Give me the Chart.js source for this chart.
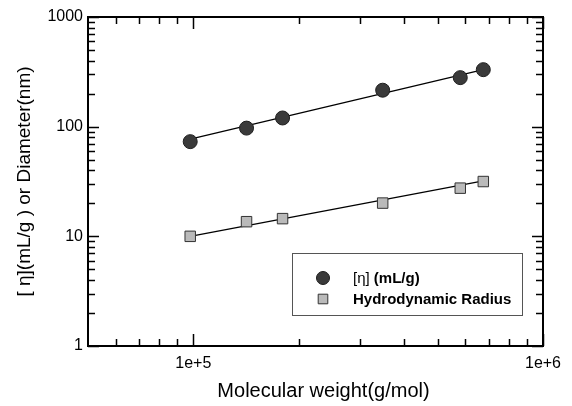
<!DOCTYPE html>
<html>
<head>
<meta charset="utf-8">
<script src="https://cdn.jsdelivr.net/npm/chart.js@4.4.1/dist/chart.umd.min.js"></script>
<style>
    html, body { margin: 0; padding: 0; background: #ffffff; }
    #wrap { width: 572px; height: 406px; }
</style>
</head>
<body>
<div id="wrap"><canvas id="chart" width="572" height="406"></canvas></div>
<script>
"use strict";

// data
const molWeight = [98000, 142000, 180000, 348000, 580000, 675000];
const intrinsicVisc = [73, 97, 120, 215, 280, 331];
const hydroRadius = [10.0, 13.6, 14.5, 20.1, 27.5, 31.6];

// end points of the drawn fit lines
const fitX = [98000, 675000];
const viscFit = [77, 331];
const radiusFit = [10.0, 32.0];

// axis ticks
const xMajorTicks = [1e5, 1e6];
const xTickLabels = ["1e+5", "1e+6"];
const xMinorTicks = [6e4, 7e4, 8e4, 9e4, 2e5, 3e5, 4e5, 5e5, 6e5, 7e5, 8e5, 9e5];
const yMajorTicks = [1, 10, 100, 1000];
const yTickLabels = ["1", "10", "100", "1000"];
const yMinorTicks = [2, 3, 4, 5, 6, 7, 8, 9, 20, 30, 40, 50, 60, 70, 80, 90, 200, 300, 400, 500, 600, 700, 800, 900];

const xTitle = "Molecular weight(g/mol)";
const yTitle = "[ \u03B7](mL/g ) or Diameter(nm)";

const FONT = "'Liberation Sans', Arial, sans-serif";

function toPoints(xs, ys) {
    return xs.map(function(x, i) {
        return { x: x, y: ys[i] };
    });
}

// frame + inward tick marks on all four sides
const framePlugin = {
    id: "frame",
    beforeDatasetsDraw: function(chart) {
        const ctx = chart.ctx;
        const area = chart.chartArea;
        const xScale = chart.scales.x;
        const yScale = chart.scales.y;

        ctx.save();
        ctx.strokeStyle = "#000000";
        ctx.lineWidth = 1.5;

        function xTick(v, len) {
            const px = Math.round(xScale.getPixelForValue(v)) + 0.5;
            ctx.beginPath();
            ctx.moveTo(px, area.bottom);
            ctx.lineTo(px, area.bottom - len);
            ctx.moveTo(px, area.top);
            ctx.lineTo(px, area.top + len);
            ctx.stroke();
        }
        function yTick(v, len) {
            const py = Math.round(yScale.getPixelForValue(v)) + 0.5;
            ctx.beginPath();
            ctx.moveTo(area.left, py);
            ctx.lineTo(area.left + len, py);
            ctx.moveTo(area.right, py);
            ctx.lineTo(area.right - len, py);
            ctx.stroke();
        }

        xMinorTicks.forEach(function(v) { xTick(v, 7); });
        xMajorTicks.forEach(function(v) { xTick(v, 12); });
        yMinorTicks.forEach(function(v) { yTick(v, 7); });
        yMajorTicks.forEach(function(v) { yTick(v, 11); });

        ctx.lineWidth = 2;
        ctx.strokeRect(area.left, area.top, area.right - area.left, area.bottom - area.top);

        // x axis title sits a bit right of the plot centre in the original
        ctx.fillStyle = "#000000";
        ctx.font = "20px " + FONT;
        ctx.textAlign = "center";
        ctx.textBaseline = "middle";
        ctx.fillText(xTitle, (area.left + area.right) / 2 + 8, 391);
        ctx.restore();
    }
};

// boxed legend inside the plot, lower right
const legendItems = [
    [{ text: "[\u03B7] ", bold: false }, { text: "(mL/g)", bold: true }],
    [{ text: "Hydrodynamic Radius", bold: true }]
];

const boxLegendPlugin = {
    id: "boxLegend",
    afterDraw: function(chart) {
        const ctx = chart.ctx;
        const area = chart.chartArea;
        const boxRight = area.right - 21;
        const boxBottom = area.bottom - 31;
        const boxW = 230;
        const boxH = 62;
        const boxLeft = boxRight - boxW;
        const boxTop = boxBottom - boxH;

        ctx.save();
        ctx.fillStyle = "#ffffff";
        ctx.fillRect(boxLeft, boxTop, boxW, boxH);
        ctx.strokeStyle = "#555555";
        ctx.lineWidth = 1;
        ctx.strokeRect(boxLeft + 0.5, boxTop + 0.5, boxW, boxH);

        legendItems.forEach(function(parts, i) {
            const ds = chart.data.datasets[i];
            const cy = boxTop + 25 + i * 21;
            ctx.fillStyle = ds.backgroundColor;
            ctx.strokeStyle = ds.borderColor;
            ctx.lineWidth = 1;
            Chart.helpers.drawPoint(ctx, {
                pointStyle: ds.pointStyle,
                radius: ds.pointStyle === "circle" ? 6.5 : 6.8,
                borderWidth: 1
            }, boxLeft + 31, cy);

            let tx = boxLeft + 61;
            ctx.fillStyle = "#000000";
            ctx.textBaseline = "middle";
            ctx.textAlign = "left";
            parts.forEach(function(p) {
                ctx.font = (p.bold ? "bold " : "") + "15px " + FONT;
                ctx.fillText(p.text, tx, cy + 1);
                tx += ctx.measureText(p.text).width;
            });
        });
        ctx.restore();
    }
};

const ctx = document.getElementById("chart").getContext("2d");

new Chart(ctx, {
    type: "scatter",
    data: {
        datasets: [
            {
                label: "[\u03B7] (mL/g)",
                data: toPoints(molWeight, intrinsicVisc),
                pointStyle: "circle",
                pointRadius: 7,
                backgroundColor: "#3a3a3a",
                borderColor: "#1e1e1e",
                borderWidth: 1,
                order: 0
            },
            {
                label: "Hydrodynamic Radius",
                data: toPoints(molWeight, hydroRadius),
                pointStyle: "rect",
                pointRadius: 7.4,
                backgroundColor: "#bababa",
                borderColor: "#333333",
                borderWidth: 1,
                order: 0
            },
            {
                label: "fit eta",
                data: toPoints(fitX, viscFit),
                showLine: true,
                pointRadius: 0,
                borderColor: "#000000",
                borderWidth: 1.3,
                order: 5
            },
            {
                label: "fit radius",
                data: toPoints(fitX, radiusFit),
                showLine: true,
                pointRadius: 0,
                borderColor: "#000000",
                borderWidth: 1.3,
                order: 5
            }
        ]
    },
    options: {
        responsive: false,
        animation: false,
        events: [],
        layout: {
            padding: { left: 0, top: 17, right: 29, bottom: 0 }
        },
        plugins: {
            legend: { display: false },
            tooltip: { enabled: false }
        },
        scales: {
            x: {
                type: "logarithmic",
                position: "bottom",
                min: 5e4,
                max: 1e6,
                grid: { display: false, drawTicks: false },
                border: { display: false },
                afterBuildTicks: function(scale) {
                    scale.ticks = xMajorTicks.map(function(v) { return { value: v }; });
                },
                afterFit: function(scale) {
                    scale.height = 60;
                },
                ticks: {
                    autoSkip: false,
                    maxRotation: 0,
                    padding: 8,
                    color: "#000000",
                    font: { family: FONT, size: 16 },
                    callback: function(value, index) {
                        return xTickLabels[index];
                    }
                }
            },
            y: {
                type: "logarithmic",
                position: "left",
                min: 1,
                max: 1000,
                grid: { display: false, drawTicks: false },
                border: { display: false },
                afterBuildTicks: function(scale) {
                    scale.ticks = yMajorTicks.map(function(v) { return { value: v }; });
                },
                afterFit: function(scale) {
                    scale.width = 88;
                },
                ticks: {
                    autoSkip: false,
                    padding: 5,
                    color: "#000000",
                    font: { family: FONT, size: 16 },
                    callback: function(value, index) {
                        return yTickLabels[index];
                    }
                },
                title: {
                    display: true,
                    text: yTitle,
                    color: "#000000",
                    font: { family: FONT, size: 19 },
                    padding: { top: 13, bottom: 0 }
                }
            }
        }
    },
    plugins: [framePlugin, boxLegendPlugin]
});
</script>
</body>
</html>
